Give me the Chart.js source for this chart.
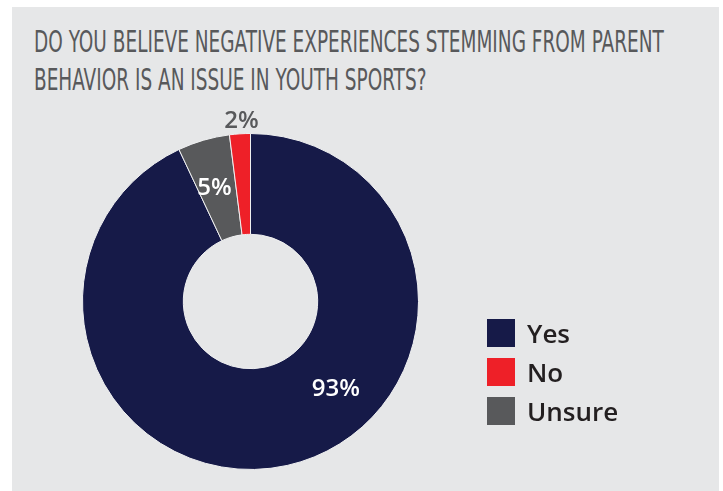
<!DOCTYPE html>
<html>
<head>
<meta charset="utf-8">
<script src="https://cdn.jsdelivr.net/npm/chart.js@4"></script>
<style>
  body { margin: 0; background: #fff; }
  #panel { position: absolute; left: 12px; top: 7px; width: 707px; height: 484px; background: #e6e7e8; }
  #title {
    position: absolute; left: 34px; top: 23px; margin: 0;
    font-family: "Liberation Sans Narrow", "DejaVu Sans Condensed", sans-serif;
    font-weight: normal; font-size: 30px; line-height: 38px; color: #58595b;
    white-space: nowrap; transform: scaleX(0.685); transform-origin: left top;
  }
  #chart { position: absolute; left: 0; top: 0; }
  #legend { position: absolute; left: 487px; top: 319px; margin: 0; padding: 0; list-style: none; }
  #legend li { display: flex; align-items: center; height: 28px; margin-bottom: 11px; }
  #legend .box { width: 28px; height: 28px; margin-right: 12px; }
  #legend .txt { font-family: "Open Sans", sans-serif; font-weight: 600; font-size: 26px; line-height: 28px; color: #231f20; }
</style>
</head>
<body>
<div id="panel"></div>
<h1 id="title">DO YOU BELIEVE NEGATIVE EXPERIENCES STEMMING FROM PARENT<br>BEHAVIOR IS AN ISSUE IN YOUTH SPORTS?</h1>
<canvas id="chart" width="723" height="491"></canvas>
<ul id="legend"></ul>
<script>
// answers in drawing order (clockwise from 12 o'clock)
const answers = ['Yes', 'Unsure', 'No'];
const percents = [93, 5, 2];
const colors = ['#161a48', '#58595b', '#ee2028'];
// order the legend lists them in
const legendOrder = ['Yes', 'No', 'Unsure'];

// where each percentage sits: fraction along the arc, distance from centre, colour
const labelSpots = {
  Yes:    { t: 0.405, r: 122, color: '#ffffff' },
  Unsure: { t: 0.42,  r: 119, color: '#ffffff' },
  No:     { t: 0.6,   r: 181, color: '#58595b' }
};

const pctLabels = {
  id: 'pctLabels',
  afterDatasetsDraw(chart) {
    const ctx = chart.ctx;
    const meta = chart.getDatasetMeta(0);
    ctx.save();
    ctx.font = '600 24px "Open Sans", sans-serif';
    ctx.textAlign = 'center';
    ctx.textBaseline = 'middle';
    meta.data.forEach((arc, i) => {
      const p = arc.getProps(['x', 'y', 'startAngle', 'endAngle']);
      const spot = labelSpots[chart.data.labels[i]];
      const a = p.startAngle + (p.endAngle - p.startAngle) * spot.t;
      ctx.fillStyle = spot.color;
      ctx.fillText(chart.data.datasets[0].data[i] + '%', p.x + Math.cos(a) * spot.r, p.y + Math.sin(a) * spot.r);
    });
    ctx.restore();
  }
};

const chart = new Chart(document.getElementById('chart'), {
  type: 'doughnut',
  data: {
    labels: answers,
    datasets: [{
      data: percents,
      backgroundColor: colors,
      borderColor: '#eeeff0',
      borderWidth: 1
    }]
  },
  options: {
    responsive: false,
    animation: false,
    cutout: '40%',
    layout: { padding: { left: 82, right: 304, top: 133, bottom: 21 } },
    plugins: {
      legend: { display: false },
      tooltip: { enabled: false }
    }
  },
  plugins: [pctLabels]
});

// html legend built from the chart's own legend items
const items = chart.options.plugins.legend.labels.generateLabels(chart)
  .sort((a, b) => legendOrder.indexOf(a.text) - legendOrder.indexOf(b.text));
const list = document.getElementById('legend');
items.forEach(item => {
  const li = document.createElement('li');
  const box = document.createElement('span');
  box.className = 'box';
  box.style.background = item.fillStyle;
  const txt = document.createElement('span');
  txt.className = 'txt';
  txt.textContent = item.text;
  li.appendChild(box);
  li.appendChild(txt);
  list.appendChild(li);
});
</script>
</body>
</html>
